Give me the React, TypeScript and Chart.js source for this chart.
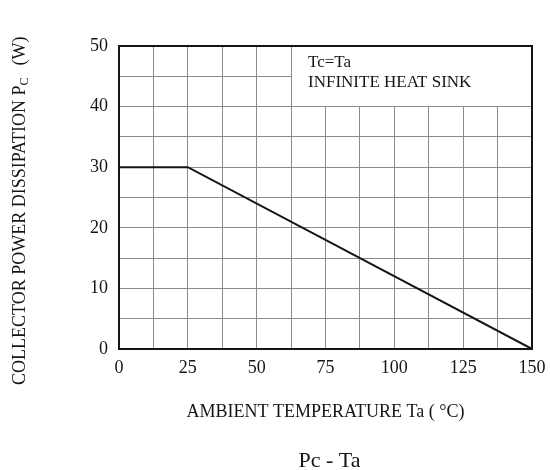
import React, { useEffect, useRef } from "react";
import { Chart, registerables } from "chart.js";

Chart.register(...registerables);

const tempX = [0, 25, 150];
const powerY = [30, 30, 0];
const xLabelTicks = [0, 25, 50, 75, 100, 125, 150];
const yLabelTicks = [0, 10, 20, 30, 40, 50];
const yTitle = "COLLECTOR POWER DISSIPATION P";
const yTitleSub = "C";
const yTitleUnit = "(W)";
const xTitle = "AMBIENT TEMPERATURE Ta ( \u00B0C)";
const chartTitle = "Pc - Ta";
const noteLines = ["Tc=Ta", "INFINITE HEAT SINK"];
const noteBoxX = [62.5, 150];
const noteBoxY = [40, 50];

const SERIF = '"Liberation Serif", "Times New Roman", serif';
const INK = "#151515";

export default function App() {
  const ref = useRef<HTMLCanvasElement>(null);
  useEffect(() => {
    const canvas = ref.current!;
    const decor = {
      id: "decor",
      beforeDatasetsDraw(chart: any) {
        const { ctx, chartArea, scales } = chart;
        const x = scales.x, y = scales.y;
        ctx.save();
        // blank note box
        const bx = Math.round(x.getPixelForValue(noteBoxX[0])) + 1;
        const by = Math.round(y.getPixelForValue(noteBoxY[1])) + 1;
        const bw = Math.round(x.getPixelForValue(noteBoxX[1])) - 1 - bx;
        const bh = Math.round(y.getPixelForValue(noteBoxY[0])) - 1 - by;
        ctx.fillStyle = "#fff";
        ctx.fillRect(bx, by, bw, bh);
        // frame
        ctx.strokeStyle = INK;
        ctx.lineWidth = 2;
        ctx.strokeRect(
          Math.round(chartArea.left),
          Math.round(chartArea.top),
          Math.round(chartArea.right - chartArea.left),
          Math.round(chartArea.bottom - chartArea.top)
        );
        // note text
        ctx.fillStyle = INK;
        ctx.font = "17px " + SERIF;
        ctx.textAlign = "left";
        ctx.textBaseline = "alphabetic";
        ctx.fillText(noteLines[0], bx + 16, 67);
        ctx.fillText(noteLines[1], bx + 16, 87);
        ctx.restore();
      },
      afterDraw(chart: any) {
        const { ctx, chartArea } = chart;
        ctx.save();
        ctx.fillStyle = INK;
        ctx.textBaseline = "alphabetic";
        // x title
        ctx.font = "18px " + SERIF;
        ctx.textAlign = "center";
        ctx.fillText(xTitle, (chartArea.left + chartArea.right) / 2, 417);
        // chart title
        ctx.font = "22px " + SERIF;
        ctx.fillText(chartTitle, (chartArea.left + chartArea.right) / 2 + 4, 467);
        // y title
        ctx.translate(25, 385);
        ctx.rotate(-Math.PI / 2);
        ctx.textAlign = "left";
        ctx.font = "18px " + SERIF;
        ctx.fillText(yTitle, 0, 0);
        let w = ctx.measureText(yTitle).width;
        ctx.font = "12px " + SERIF;
        ctx.fillText(yTitleSub, w, 3);
        w += ctx.measureText(yTitleSub).width + 12;
        ctx.font = "18px " + SERIF;
        ctx.fillText(yTitleUnit, w, 0);
        ctx.restore();
      },
    };

    const chart = new Chart(canvas, {
      type: "scatter",
      data: {
        datasets: [
          {
            data: tempX.map((v, i) => ({ x: v, y: powerY[i] })),
            showLine: true,
            borderColor: INK,
            borderWidth: 2,
            pointRadius: 0,
            tension: 0,
          },
        ],
      },
      options: {
        responsive: false,
        animation: false,
        layout: { padding: { top: 46, right: 18, bottom: 0, left: 0 } },
        plugins: { legend: { display: false }, tooltip: { enabled: false } },
        scales: {
          x: {
            type: "linear",
            min: 0,
            max: 150,
            afterFit: (s: any) => {
              s.height = 121;
              s.paddingLeft = 0;
              s.paddingRight = 0;
            },
            ticks: {
              stepSize: 12.5,
              padding: 8,
              color: INK,
              font: { family: SERIF, size: 18 },
              maxRotation: 0,
              autoSkip: false,
              callback: (v: any) => (xLabelTicks.includes(Number(v)) ? String(v) : ""),
            },
            grid: { color: "#8a8a8a", lineWidth: 1, drawTicks: false },
            border: { color: INK, width: 2 },
          },
          y: {
            type: "linear",
            min: 0,
            max: 50,
            afterFit: (s: any) => {
              s.width = 119;
              s.paddingTop = 0;
              s.paddingBottom = 0;
            },
            ticks: {
              stepSize: 5,
              padding: 11,
              color: INK,
              font: { family: SERIF, size: 18 },
              autoSkip: false,
              callback: (v: any) => (yLabelTicks.includes(Number(v)) ? String(v) : ""),
            },
            grid: { color: "#8a8a8a", lineWidth: 1, drawTicks: false },
            border: { color: INK, width: 2 },
          },
        },
      },
      plugins: [decor],
    });
    return () => chart.destroy();
  }, []);

  return (
    <div style={{ position: "fixed", left: 0, top: 0, width: 550, height: 470, background: "#fff" }}>
      <canvas ref={ref} width={550} height={470} style={{ display: "block" }} />
    </div>
  );
}
